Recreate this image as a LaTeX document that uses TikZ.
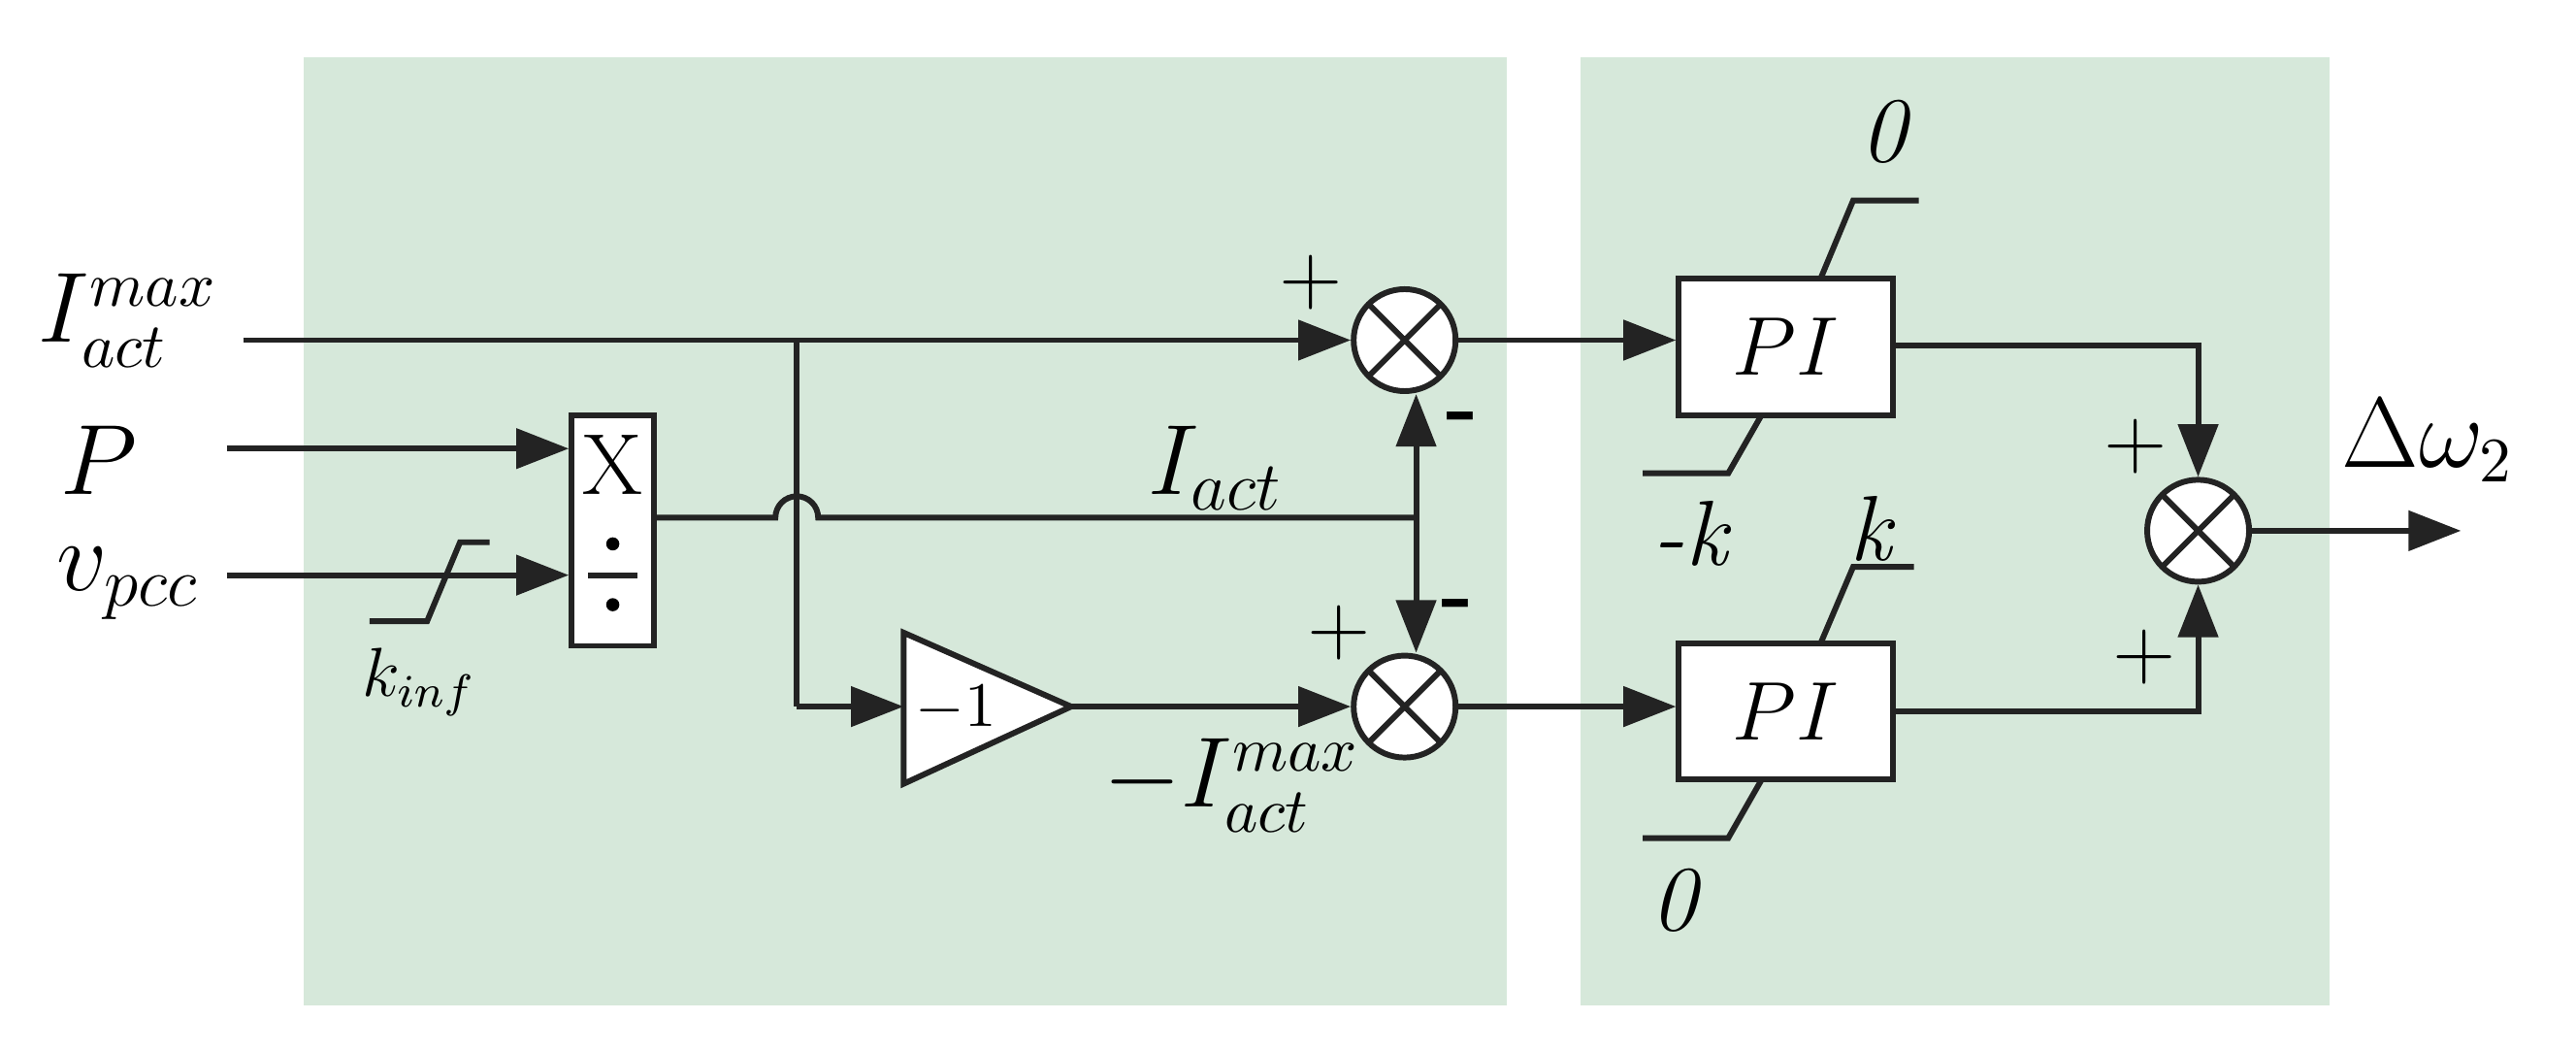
\documentclass[tikz,border=0pt]{standalone}
\usetikzlibrary{arrows.meta,calc}
\definecolor{bg}{RGB}{214,232,218}
\definecolor{ln}{RGB}{35,35,35}
\begin{document}
\begin{tikzpicture}[x=0.01cm,y=-0.01cm,
  line width=1pt, draw=ln,
  arr/.style={-{Triangle[length=0.32cm,width=0.24cm]}},
  sum/.style={circle,draw,fill=white,minimum size=0.62cm,inner sep=0pt,line width=1pt,
    path picture={\draw ($(path picture bounding box.center)+(45:0.31cm)$)--($(path picture bounding box.center)+(225:0.31cm)$)
      ($(path picture bounding box.center)+(135:0.31cm)$)--($(path picture bounding box.center)+(315:0.31cm)$);}},
  pi/.style={draw,fill=white,minimum width=1.3cm,minimum height=0.83cm,font=\fontsize{15}{18}\selectfont,line width=1pt},
  lab/.style={font=\fontsize{16}{19}\selectfont},
  sg/.style={font=\fontsize{15}{18}\selectfont}]
\useasboundingbox (0,0) rectangle (1568,640);
\fill[bg] (185,35) rectangle (917,612);
\fill[bg] (962,35) rectangle (1418,612);
% inputs
\coordinate (i1) at (148,207);
\coordinate (i2) at (138,273);
\coordinate (i3) at (138,350);
\node[lab] (l1) at (78,195) {$I_{act}^{max}$};
\node[font=\fontsize{18}{21}\selectfont] (l2) at (60,280) {$P$};
\node[font=\fontsize{18}{21}\selectfont] (l3) at (78,355) {$v_{pcc}$};
% divider
\node[draw,fill=white,minimum width=0.5cm,minimum height=1.4cm,inner sep=0pt,line width=1pt] (dv) at (373,323) {};
\node[font=\fontsize{15}{18}\selectfont] (dx) at (373,283) {X};
\draw (358,350) -- (388,350);
\fill (373,331) circle (4);
\fill (373,368) circle (4);
% sums
\node[sum] (s1) at (855,207) {};
\node[sum] (s2) at (855,430) {};
\node[sum] (s3) at (1338,323) {};
% gain
\draw[fill=white] (550,385) -- (652,430) -- (550,477) -- cycle;
\coordinate (gin) at (550,430);
\coordinate (gout) at (652,430);
\node[font=\fontsize{11}{13}\selectfont] (gl) at (582,431) {$-1$};
% PI
\node[pi] (p1) at (1087,211) {$PI$};
\node[pi] (p2) at (1087,433) {$PI$};
% wires
\coordinate (j1) at (485,207);
\coordinate (j2) at (862,315);
\draw[arr] (i1) -- (s1.west);
\draw[arr] (i2) -- (dv.west|-i2);
\draw[arr] (i3) -- (dv.west|-i3);
\draw (j1) -- (485,430);
\draw[arr] (485,430) -- (gin);
\draw (dv.east|-j2) -- (472,315) arc (180:360:13) -- (j2);
\draw[arr] (j2) -- (s1.south-|j2);
\draw[arr] (j2) -- (s2.north-|j2);
\draw[arr] (gout) -- (s2.west);
\draw[arr] (s1.east) -- (p1.west|-s1);
\draw[arr] (s2.east) -- (p2.west|-s2);
\draw[arr] (p1.east|-0,210) -- (1338,210) -- (s3.north);
\draw[arr] (p2.east) -- (1338,433) -- (s3.south);
\coordinate (o) at (1498,323);
\draw[arr] (s3.east) -- (o);
% limiters
\draw (225,378) -- (260,378) -- (280,330) -- (298,330);
\draw (1108,170) -- (1128,122) -- (1168,122);
\draw (1072,253) -- (1052,288) -- (1000,288);
\draw (1108,392) -- (1128,345) -- (1165,345);
\draw (1072,475) -- (1052,510) -- (1000,510);
% labels
\node[font=\fontsize{12}{14}\selectfont] (kinf) at (255,415) {$k_{inf}$};
\node[font=\fontsize{17}{20}\selectfont] (ia) at (740,285) {$I_{act}$};
\node[lab] (mia) at (750,478) {$-I_{act}^{max}$};
\node[sg] at (798,172) {$+$};
\node[sg] at (890,258) {\textbf{-}};
\node[sg] at (815,385) {$+$};
\node[sg] at (887,372) {\textbf{-}};
\node[sg] at (1300,272) {$+$};
\node[sg] at (1305,400) {$+$};
\node[lab] at (1148,80) {\textit{0}};
\node[lab] at (1030,325) {\textit{-k}};
\node[lab] at (1140,322) {\textit{k}};
\node[lab] at (1020,548) {\textit{0}};
\node[lab] (dw) at (1478,268) {$\Delta\omega_2$};
\end{tikzpicture}
\end{document}
